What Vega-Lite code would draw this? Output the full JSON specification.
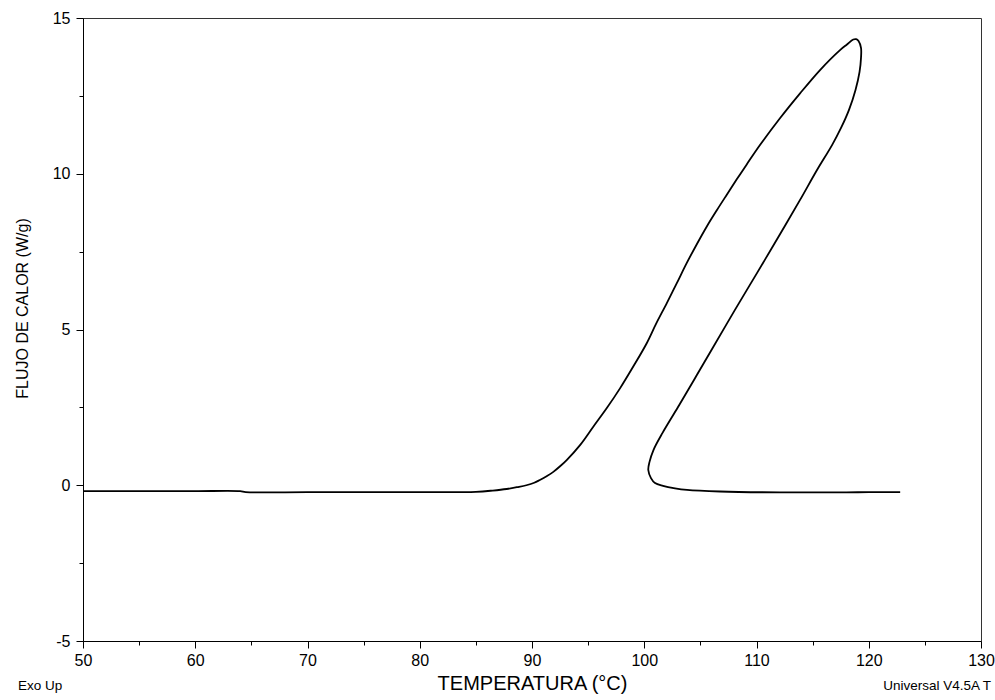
{
  "$schema": "https://vega.github.io/schema/vega-lite/v6.json",
  "width": 898,
  "height": 623,
  "autosize": {"type": "none"},
  "padding": {"left": 83, "top": 18, "right": 14, "bottom": 59},
  "background": "white",
  "config": {
    "view": {"stroke": "#333", "strokeWidth": 1},
    "font": "Liberation Sans",
    "axis": {
      "grid": false,
      "domainColor": "#000",
      "tickColor": "#000",
      "labelColor": "#000",
      "titleColor": "#000",
      "labelFont": "Liberation Sans",
      "titleFont": "Liberation Sans",
      "labelFontSize": 16,
      "titleFontSize": 16,
      "titleFontWeight": "normal"
    }
  },
  "layer": [
    {
      "data": {
        "values": [
          {"i": 1, "T": 50, "H": -0.19},
          {"i": 2, "T": 55, "H": -0.19},
          {"i": 3, "T": 60, "H": -0.19},
          {"i": 4, "T": 64, "H": -0.19},
          {"i": 5, "T": 64.5, "H": -0.22},
          {"i": 6, "T": 70, "H": -0.22},
          {"i": 7, "T": 75, "H": -0.22},
          {"i": 8, "T": 80, "H": -0.22},
          {"i": 9, "T": 85, "H": -0.21},
          {"i": 10, "T": 86.5, "H": -0.17},
          {"i": 11, "T": 87.75, "H": -0.12},
          {"i": 12, "T": 88.7, "H": -0.06},
          {"i": 13, "T": 89.5, "H": 0.0},
          {"i": 14, "T": 90.2, "H": 0.08},
          {"i": 15, "T": 90.7, "H": 0.17},
          {"i": 16, "T": 91.3, "H": 0.29},
          {"i": 17, "T": 91.9, "H": 0.43},
          {"i": 18, "T": 92.5, "H": 0.61},
          {"i": 19, "T": 93.09, "H": 0.81},
          {"i": 20, "T": 94.28, "H": 1.29},
          {"i": 21, "T": 95.46, "H": 1.88},
          {"i": 22, "T": 96.65, "H": 2.47},
          {"i": 23, "T": 97.84, "H": 3.11},
          {"i": 24, "T": 99.02, "H": 3.81},
          {"i": 25, "T": 100.22, "H": 4.56},
          {"i": 26, "T": 101.05, "H": 5.18},
          {"i": 27, "T": 102.0, "H": 5.84},
          {"i": 28, "T": 102.89, "H": 6.48},
          {"i": 29, "T": 103.78, "H": 7.13},
          {"i": 30, "T": 104.67, "H": 7.73},
          {"i": 31, "T": 105.56, "H": 8.3},
          {"i": 32, "T": 106.45, "H": 8.82},
          {"i": 33, "T": 107.34, "H": 9.32},
          {"i": 34, "T": 108.24, "H": 9.82},
          {"i": 35, "T": 109.13, "H": 10.3},
          {"i": 36, "T": 110.31, "H": 10.92},
          {"i": 37, "T": 112.09, "H": 11.78},
          {"i": 38, "T": 113.88, "H": 12.58},
          {"i": 39, "T": 115.66, "H": 13.33},
          {"i": 40, "T": 117.44, "H": 13.97},
          {"i": 41, "T": 118.06, "H": 14.15},
          {"i": 42, "T": 118.62, "H": 14.31},
          {"i": 43, "T": 118.88, "H": 14.32},
          {"i": 44, "T": 119.09, "H": 14.26},
          {"i": 45, "T": 119.31, "H": 14.04},
          {"i": 46, "T": 119.31, "H": 13.72},
          {"i": 47, "T": 119.18, "H": 13.27},
          {"i": 48, "T": 118.82, "H": 12.69},
          {"i": 49, "T": 118.24, "H": 12.05},
          {"i": 50, "T": 117.53, "H": 11.47},
          {"i": 51, "T": 116.73, "H": 10.92},
          {"i": 52, "T": 115.39, "H": 10.12},
          {"i": 53, "T": 113.88, "H": 9.16},
          {"i": 54, "T": 112.0, "H": 8.0},
          {"i": 55, "T": 110.04, "H": 6.81},
          {"i": 56, "T": 108.08, "H": 5.63},
          {"i": 57, "T": 105.99, "H": 4.34},
          {"i": 58, "T": 104.43, "H": 3.38},
          {"i": 59, "T": 103.01, "H": 2.51},
          {"i": 60, "T": 101.63, "H": 1.68},
          {"i": 61, "T": 100.82, "H": 1.13},
          {"i": 62, "T": 100.47, "H": 0.75},
          {"i": 63, "T": 100.36, "H": 0.49},
          {"i": 64, "T": 100.6, "H": 0.23},
          {"i": 65, "T": 100.96, "H": 0.07},
          {"i": 66, "T": 101.67, "H": -0.02},
          {"i": 67, "T": 102.74, "H": -0.1},
          {"i": 68, "T": 103.81, "H": -0.15},
          {"i": 69, "T": 106.75, "H": -0.2},
          {"i": 70, "T": 112.09, "H": -0.23},
          {"i": 71, "T": 115.0, "H": -0.23},
          {"i": 72, "T": 118.0, "H": -0.23},
          {"i": 73, "T": 120.0, "H": -0.22},
          {"i": 74, "T": 122.8, "H": -0.22}
        ]
      },
      "mark": {"type": "line", "color": "#000", "strokeWidth": 1.8, "interpolate": "catmull-rom"},
      "encoding": {
        "x": {
          "field": "T",
          "type": "quantitative",
          "scale": {"domain": [50, 130], "nice": false, "zero": false},
          "axis": {
            "title": "TEMPERATURA (°C)",
            "titleFontSize": 20,
            "values": [50, 55, 60, 65, 70, 75, 80, 85, 90, 95, 100, 105, 110, 115, 120, 125, 130],
            "labelExpr": "datum.value % 10 === 0 ? '' + datum.value : ''",
            "tickSize": {"condition": {"test": "datum.value % 10 === 0", "value": 7}, "value": 4},
            "labelPadding": 4,
            "titlePadding": 5,
            "labelFlush": false,
            "labelOverlap": false
          }
        },
        "y": {
          "field": "H",
          "type": "quantitative",
          "scale": {"domain": [-5, 15], "nice": false, "zero": false},
          "axis": {
            "title": "FLUJO DE CALOR (W/g)",
            "values": [-5, -3.75, -2.5, -1.25, 0, 1.25, 2.5, 3.75, 5, 6.25, 7.5, 8.75, 10, 11.25, 12.5, 13.75, 15],
            "labelExpr": "datum.value % 5 === 0 ? '' + datum.value : ''",
            "tickSize": {"condition": {"test": "datum.value % 5 === 0", "value": 7}, "value": 4},
            "labelPadding": 6,
            "labelOverlap": false,
            "titleX": -61,
            "titleY": 290,
            "titleBaseline": "middle"
          }
        },
        "order": {"field": "i", "type": "quantitative"}
      }
    },
    {
      "data": {"values": [{}]},
      "mark": {"type": "text", "align": "left", "baseline": "middle", "dx": -65, "dy": 45, "fontSize": 13.5, "font": "Liberation Sans", "color": "#000"},
      "encoding": {
        "x": {"datum": 50},
        "y": {"datum": -5},
        "text": {"value": "Exo Up"}
      }
    },
    {
      "data": {"values": [{}]},
      "mark": {"type": "text", "align": "right", "baseline": "middle", "dx": 10, "dy": 45, "fontSize": 13.5, "font": "Liberation Sans", "color": "#000"},
      "encoding": {
        "x": {"datum": 130},
        "y": {"datum": -5},
        "text": {"value": "Universal V4.5A T"}
      }
    }
  ]
}
